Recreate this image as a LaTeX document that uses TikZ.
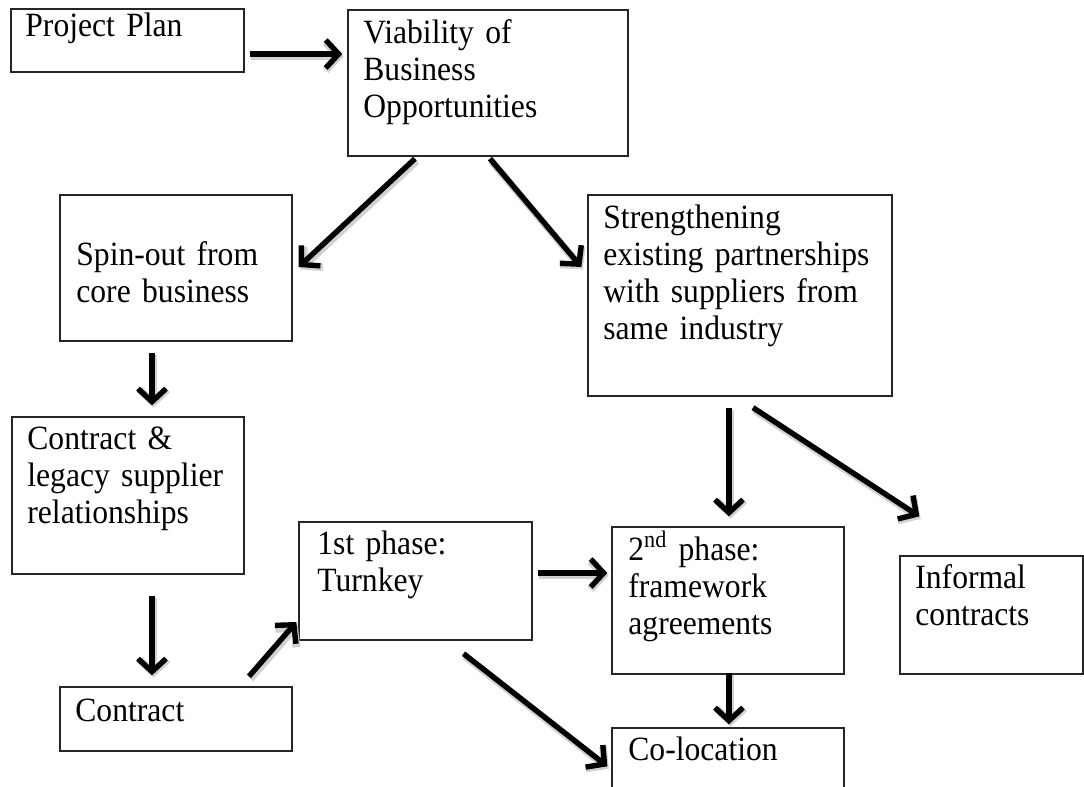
\documentclass[tikz,border=0pt]{standalone}
\usepackage{fontspec}
\setmainfont{Liberation Serif}[FakeStretch=0.93]
\usetikzlibrary{arrows.meta,fit}

\tikzset{
  box/.style={draw=black!85, line width=0.65pt, rectangle, inner sep=0pt},
  txt/.style={anchor=base west, inner sep=0pt, text width=170pt, align=left,
              font=\fontsize{17pt}{18.5pt}\selectfont},
  arr/.style={line width=2.7pt, -{Straight Barb[length=6.5pt,width=14pt]},
              preaction={draw=black!18, line width=3.8pt,
                         transform canvas={shift={(0.7pt,-1.2pt)}}}},
}

\begin{document}
\begin{tikzpicture}[x=0.5pt,y=-0.5pt]
\useasboundingbox (0,0) rectangle (1084,787);

% boxes (pixel grid, y downwards)
\node[box, fit={(11,9) (244,72)}]     (pp) {};
\node[box, fit={(348,10) (628,156)}]  (vb) {};
\node[box, fit={(60,195) (292,341)}]  (so) {};
\node[box, fit={(588,195) (892,396)}] (st) {};
\node[box, fit={(12,417) (244,574)}]  (cl) {};
\node[box, fit={(60,687) (292,751)}]  (ct) {};
\node[box, fit={(299,522) (532,640)}] (p1) {};
\node[box, fit={(612,527) (844,674)}] (p2) {};
\node[box, fit={(900,556) (1083,674)}] (inf) {};
\node[box, fit={(612,728) (844,800)}] (co) {};

% box texts
\node[txt] (tpp) at (25,36)   {Project Plan};
\node[txt] (tvb) at (363,43)  {Viability of\\Business\\Opportunities};
\node[txt] (tso) at (76,265)  {Spin-out from\\core business};
\node[txt] (tst) at (603,228) {Strengthening\\existing partnerships\\with suppliers from\\same industry};
\node[txt] (tcl) at (27,449)  {Contract \&\\legacy supplier\\relationships};
\node[txt] (tct) at (75,721)  {Contract};
\node[txt] (tp1) at (317,554) {1st phase:\\Turnkey};
\node[txt] (tp2) at (628,560) {2\textsuperscript{nd} phase:\\framework\\agreements};
\node[txt] (tinf) at (915,588) {Informal\\contracts};
\node[txt] (tco) at (628,760) {Co-location};

% connectors
\draw[arr] ([shift={(5,13.5)}]pp.east)    -- ([shift={(-5,-29)}]vb.west);
\draw[arr] ([shift={(-73,2)}]vb.south)    -- ([shift={(6,-1)}]so.east);
\draw[arr] ([shift={(2,2)}]vb.south)      -- ([shift={(-6,-28.5)}]st.west);
\draw[arr] ([shift={(-24,11)}]so.south)   -- ([shift={(24,-11)}]cl.north);
\draw[arr] ([shift={(24,21)}]cl.south)    -- ([shift={(-24,-11)}]ct.north);
\draw[arr] ([shift={(73,-10)}]ct.north)   -- ([shift={(-2,41)}]p1.west);
\draw[arr] ([shift={(5,-8)}]p1.east)      -- ([shift={(-4,-27.5)}]p2.west);
\draw[arr] ([shift={(-11,11)}]st.south)   -- ([shift={(1,-10)}]p2.north);
\draw[arr] ([shift={(13,11)}]st.south)    -- ([shift={(20,-39)}]inf.north west);
\draw[arr] ([shift={(1,-2)}]p2.south)     -- ([shift={(1,-3)}]co.north);
\draw[arr] ([shift={(48,13)}]p1.south)    -- ([shift={(-4,39)}]co.north west);
\end{tikzpicture}
\end{document}
